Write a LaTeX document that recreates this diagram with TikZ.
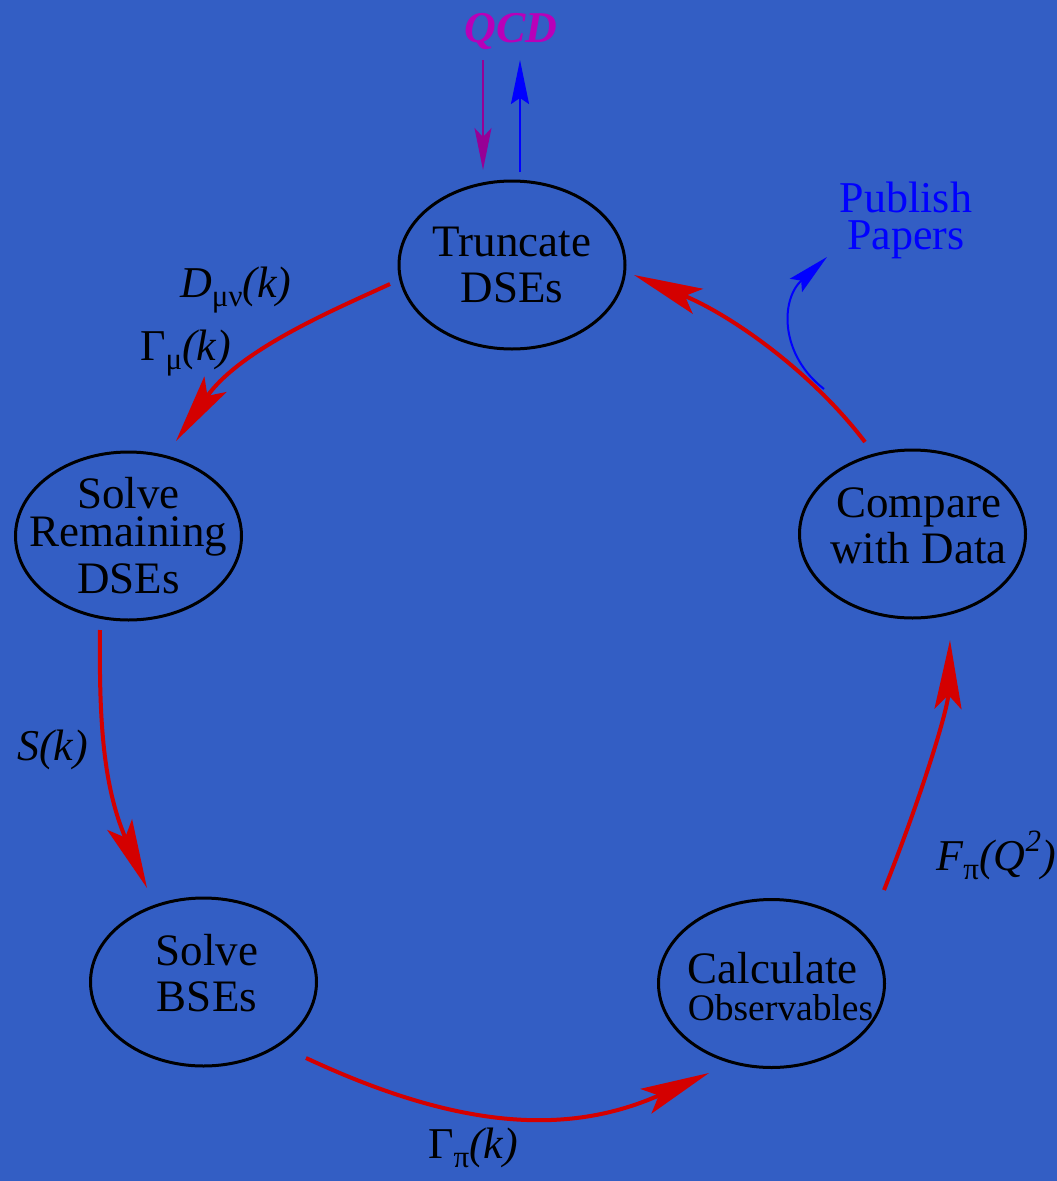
\documentclass[tikz,border=0pt]{standalone}
\usepackage{fontspec}
\setmainfont{Liberation Serif}
\usetikzlibrary{arrows.meta,shapes.geometric}
\definecolor{bgblue}{RGB}{51,94,196}
\definecolor{flowred}{RGB}{212,0,0}
\definecolor{qcdmag}{RGB}{185,0,185}
\definecolor{qcdpurple}{RGB}{150,0,150}
\definecolor{pubblue}{RGB}{0,0,255}
\newcommand\lowsub[1]{\raisebox{-9pt}{\fontsize{31}{31}\selectfont #1}}
\newcommand\highsup[1]{\raisebox{19pt}{\fontsize{31}{31}\selectfont\itshape #1}}
\begin{document}
\begin{tikzpicture}[x=1pt,y=-1pt,
  stage/.style={ellipse, draw=black, line width=3pt, minimum width=226pt,
    minimum height=168pt, inner sep=0pt},
  stagetext/.style={inner sep=0pt, align=center,
    font=\fontsize{45}{46}\selectfont},
  flow/.style={draw=flowred, line width=4pt,
    -{Stealth[length=69pt,width=27pt,inset=14pt]}},
  qcdin/.style={draw=qcdpurple, line width=2pt,
    -{Stealth[length=42pt,width=17pt,inset=9pt]}},
  qcdout/.style={draw=pubblue, line width=2pt,
    -{Stealth[length=44pt,width=18pt,inset=6pt]}},
  pubarrow/.style={draw=pubblue, line width=2pt,
    -{Stealth[length=42pt,width=18pt,inset=7pt]}},
  lbl/.style={anchor=base west, inner sep=0pt, font=\fontsize{44}{46}\selectfont}
]
\fill[bgblue] (0,0) rectangle (1057,1181);
\useasboundingbox (0,0) rectangle (1057,1181);

% stages (ellipses)
\node[stage] (tr) at (512,265) {};
\node[stage] (sr) at (128.5,536) {};
\node[stage] (cd) at (912.5,534) {};
\node[stage] (sb) at (203.5,982) {};
\node[stage] (co) at (771.5,983.5) {};

% stage texts
\node[stagetext] (tr-t) at (tr.center) {Truncate\\DSEs};
\node[stagetext] (sr-t) at (sr.center) {Solve\\[-8pt]Remaining\\[1pt]DSEs};
\node[stagetext] (cd-t) at ([shift={(6,-8.5)}]cd.center) {Compare\\with Data};
\node[stagetext] (sb-t) at ([shift={(3.5,-8.5)}]sb.center) {Solve\\BSEs};
\node[stagetext, align=left] (co-t) at ([shift={(9,3)}]co.center)
  {Calculate\\[-9pt]{\fontsize{37.5}{38}\selectfont Observables}};

% top texts
\node[anchor=base, inner sep=0pt, text=qcdmag,
  font=\fontsize{44}{46}\selectfont\bfseries\itshape] (qcd) at (511,42) {QCD};
\node[inner sep=0pt, align=center, text=pubblue,
  font=\fontsize{44}{37}\selectfont] (pp) at (906,220) {Publish\\Papers};

% edge labels
\node[lbl] (ldmn) at (180,297) {\textit{D}\lowsub{μν}\textit{(k)}};
\node[lbl] (lgmu) at (140,360) {Γ\lowsub{μ}\textit{(k)}};
\node[lbl] (lsk) at (17,760) {\textit{S(k)}};
\node[lbl] (lgpi) at (428,1158) {Γ\lowsub{π}\textit{(k)}};
\node[lbl] (lfpi) at (936,870) {\textit{F}\lowsub{π}\textit{(Q}\highsup{2}\textit{)}};

% QCD arrows
\draw[qcdin] ([shift={(-28,18)}]qcd.base) -- ([shift={(-29,-95)}]tr.center);
\draw[qcdout] ([shift={(8,-93)}]tr.center) -- ([shift={(9,18)}]qcd.base);

% cycle
\draw[flow] ([shift={(-122,19)}]tr.center) .. controls (336,309) and (240,349) .. ([shift={(47.5,-95)}]sr.center);
\draw[flow] ([shift={(-28.5,94)}]sr.center) .. controls (99,720) and (103,786) .. ([shift={(-56.5,-94)}]sb.center);
\draw[flow] ([shift={(102.5,76)}]sb.center) .. controls (456,1128) and (566,1137) .. ([shift={(-62.5,89.5)}]co.center);
\draw[flow] ([shift={(112.5,-93.5)}]co.center) .. controls (920,800) and (948,710) .. ([shift={(37.5,106)}]cd.center);
\draw[flow] ([shift={(-47.5,-92)}]cd.center) .. controls (811,371) and (731,315) .. ([shift={(122,10)}]tr.center);

% publish branch
\coordinate (branch) at (824,389);
\draw[pubarrow] (branch) .. controls (780,355) and (780,300) .. ([shift={(-79,37)}]pp.center);
\end{tikzpicture}
\end{document}
